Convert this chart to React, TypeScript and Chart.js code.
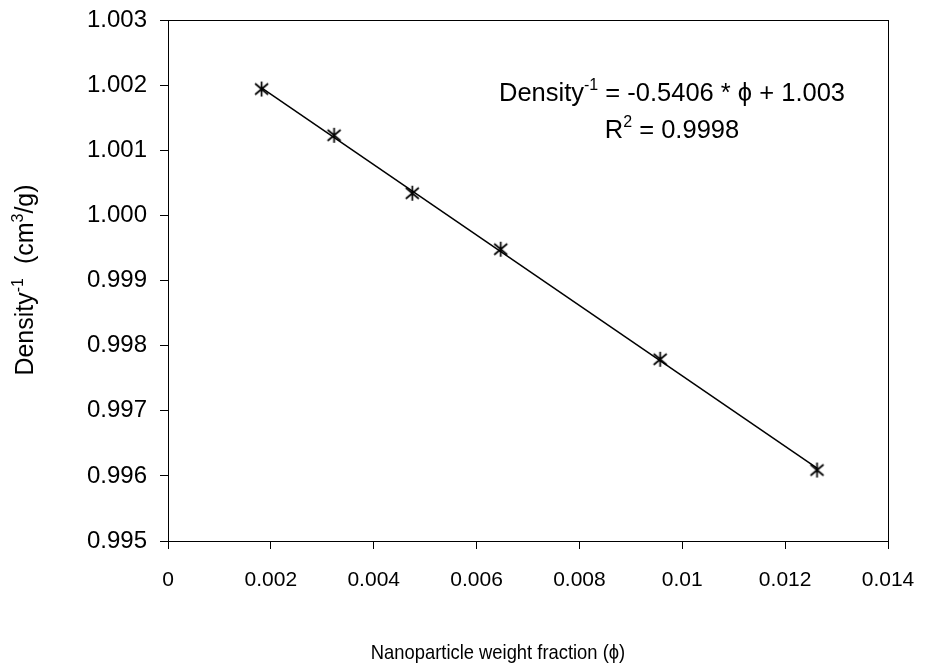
import React, { useEffect, useRef } from "react";
import { Chart, registerables } from "chart.js";

Chart.register(...registerables);

// Data
const phi = [0.00182, 0.00323, 0.00475, 0.00647, 0.00957, 0.01262];
const invDensity = [1.00194, 1.00123, 1.00034, 0.99948, 0.99779, 0.99609];
const trendSlope = -0.5406;
const trendIntercept = 1.00294;
const xTicks = [0, 0.002, 0.004, 0.006, 0.008, 0.01, 0.012, 0.014];
const yTicks = [0.995, 0.996, 0.997, 0.998, 0.999, 1.0, 1.001, 1.002, 1.003];
const equationText = " = -0.5406 * \u03D5 + 1.003";
const r2Text = " = 0.9998";
const xTitle = "Nanoparticle weight fraction (\u03D5)";

const FONT = "'Liberation Sans', Arial, Helvetica, sans-serif";

type Part = { t: string; sup?: boolean };

function drawRich(ctx: CanvasRenderingContext2D, parts: Part[], x: number, y: number, size: number) {
  const supSize = Math.round(size * 0.62);
  const widths = parts.map((p) => {
    ctx.font = `${p.sup ? supSize : size}px ${FONT}`;
    return ctx.measureText(p.t).width;
  });
  const total = widths.reduce((a, b) => a + b, 0);
  let cx = x - total / 2;
  ctx.textAlign = "left";
  ctx.textBaseline = "alphabetic";
  parts.forEach((p, i) => {
    ctx.font = `${p.sup ? supSize : size}px ${FONT}`;
    ctx.fillText(p.t, cx, p.sup ? y - size * 0.42 : y);
    cx += widths[i];
  });
}

function makeMarker(): HTMLCanvasElement {
  const c = document.createElement("canvas");
  c.width = 17;
  c.height = 17;
  const g = c.getContext("2d")!;
  g.strokeStyle = "#000";
  g.lineWidth = 1.7;
  g.beginPath();
  g.moveTo(2, 3);
  g.lineTo(15, 14);
  g.moveTo(15, 3);
  g.lineTo(2, 14);
  g.moveTo(8.5, 1);
  g.lineTo(8.5, 16);
  g.stroke();
  return c;
}

const decorPlugin = {
  id: "decor",
  afterDraw(chart: any) {
    const { ctx, chartArea } = chart;
    ctx.save();
    ctx.strokeStyle = "#000";
    ctx.lineWidth = 1;
    ctx.strokeRect(chartArea.left + 0.5, chartArea.top + 0.5, chartArea.right - chartArea.left, chartArea.bottom - chartArea.top);
    ctx.fillStyle = "#000";
    // annotation
    drawRich(ctx, [{ t: "Density" }, { t: "-1", sup: true }, { t: equationText }], 672, 101, 25.5);
    drawRich(ctx, [{ t: "R" }, { t: "2", sup: true }, { t: r2Text }], 672, 138, 25.5);
    // x title (horizontally condensed as in the reference)
    ctx.save();
    ctx.translate(498, 659);
    ctx.scale(0.875, 1);
    drawRich(ctx, [{ t: xTitle }], 0, 0, 21);
    ctx.restore();
    // y title
    ctx.translate(33, 280);
    ctx.rotate(-Math.PI / 2);
    drawRich(ctx, [{ t: "Density" }, { t: "-1", sup: true }, { t: "  (cm" }, { t: "3", sup: true }, { t: "/g)" }], 0, 0, 25);
    ctx.restore();
  },
};

function zeroPad(s: any) {
  s.paddingTop = 0;
  s.paddingBottom = 0;
  s.paddingLeft = 0;
  s.paddingRight = 0;
}

export default function App() {
  const ref = useRef<HTMLCanvasElement>(null);
  useEffect(() => {
    document.body.style.margin = "0";
    const marker = makeMarker();
    const trend = [phi[0], phi[phi.length - 1]].map((x) => ({ x, y: trendSlope * x + trendIntercept }));
    const chart = new Chart(ref.current!, {
      type: "scatter",
      data: {
        datasets: [
          {
            label: "trend",
            data: trend,
            showLine: true,
            borderColor: "#000",
            borderWidth: 1.5,
            pointRadius: 0,
          },
          {
            label: "data",
            data: phi.map((x, i) => ({ x, y: invDensity[i] })),
            pointStyle: marker as any,
            pointRadius: 8,
            showLine: false,
          },
        ],
      },
      options: {
        responsive: false,
        animation: false,
        events: [],
        layout: { padding: { top: 20, right: 37, left: 0, bottom: 0 } },
        plugins: { legend: { display: false }, tooltip: { enabled: false } },
        scales: {
          x: {
            type: "linear",
            min: 0,
            max: 0.014,
            afterFit: (s: any) => {
              s.height = 126;
              zeroPad(s);
            },
            afterBuildTicks: (s: any) => {
              s.ticks = xTicks.map((v) => ({ value: v }));
            },
            ticks: {
              color: "#000",
              font: { family: FONT, size: 21 },
              padding: 19,
              maxRotation: 0,
              autoSkip: false,
              callback: (v: any) => String(Number(Number(v).toFixed(4))),
            },
            grid: { drawOnChartArea: false, drawTicks: true, tickLength: 8, color: "#000" },
            border: { display: true, color: "#000" },
          },
          y: {
            type: "linear",
            min: 0.995,
            max: 1.003,
            afterFit: (s: any) => {
              s.width = 168;
              zeroPad(s);
            },
            afterBuildTicks: (s: any) => {
              s.ticks = yTicks.map((v) => ({ value: v }));
            },
            ticks: {
              color: "#000",
              font: { family: FONT, size: 24 },
              padding: 13,
              autoSkip: false,
              callback: (v: any) => Number(v).toFixed(3),
            },
            grid: { drawOnChartArea: false, drawTicks: true, tickLength: 8, color: "#000" },
            border: { display: true, color: "#000" },
          },
        },
      },
      plugins: [decorPlugin],
    });
    return () => chart.destroy();
  }, []);
  return <canvas ref={ref} width={925} height={667} style={{ display: "block" }} />;
}
